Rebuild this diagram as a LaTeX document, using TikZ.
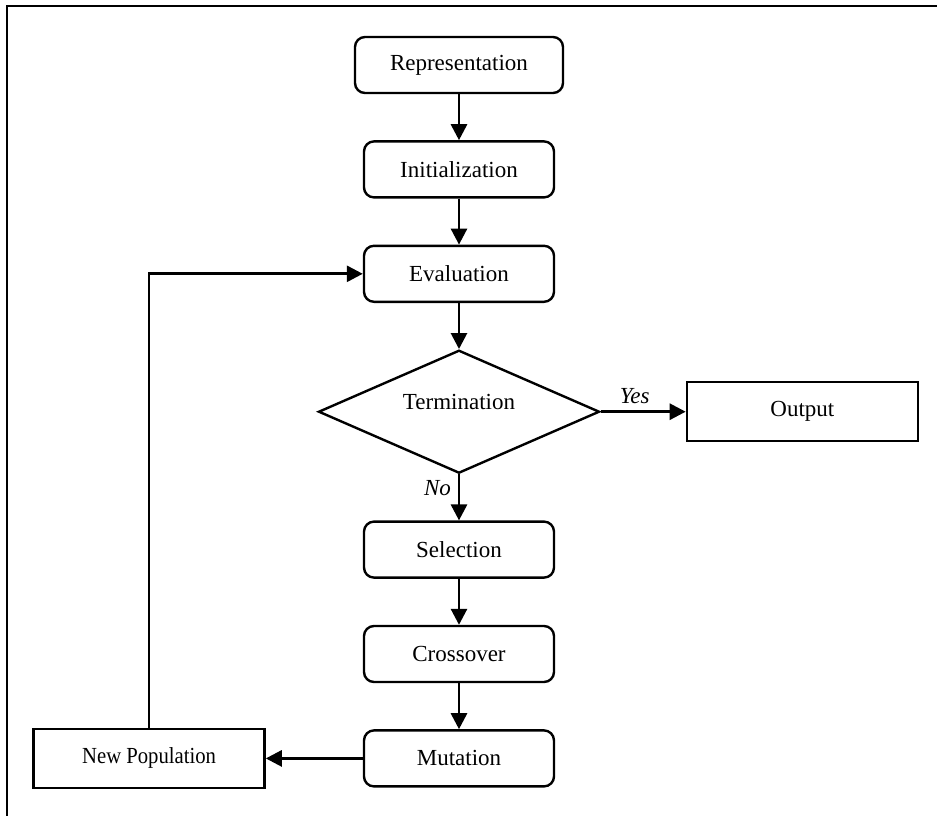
\documentclass[tikz,border=0pt]{standalone}
\usepackage{fontspec}
\setmainfont{Liberation Serif}
\usetikzlibrary{arrows.meta, positioning, shapes.geometric}
\tikzset{stage/.style={rectangle,draw,rounded corners=5pt,line width=1.2pt,align=center,inner sep=2pt,minimum width=95pt,minimum height=28pt},
plainbox/.style={rectangle,draw,line width=1.2pt,align=center,inner sep=2pt,minimum width=115.5pt,minimum height=29.5pt},
test/.style={diamond,draw,line width=1.2pt,inner sep=0pt,aspect=2.3,minimum width=140.5pt,minimum height=61.5pt},
line/.style={-{Triangle[length=8pt,width=8pt]},line width=1.4pt}}

\begin{document}
\begin{tikzpicture}[node distance=23pt and 42.5pt, font=\fontsize{11.5}{14}\selectfont]
\useasboundingbox (-229.5pt,32.5pt) rectangle (239pt,-375.5pt);
\draw[line width=1.25pt] (239pt,29.5pt) -- (-226pt,29.5pt) -- (-226pt,-375.5pt);
\node[stage, minimum width=104pt] (rep) {Representation};
\node[stage, below=of rep] (init) {Initialization};
\node[stage, below=of init] (eval) {Evaluation};
\node[test, below=of eval] (term) {\raisebox{10pt}{Termination}};
\node[plainbox, right=of term] (out) {Output};
\node[stage, below=of term] (sel) {Selection};
\node[stage, below=of sel] (cross) {Crossover};
\node[stage, below=of cross] (mut) {Mutation};
\node[plainbox, left=48.5pt of mut] (newpop) {\scalebox{0.9}[1]{New Population}};
\draw[line] (rep) -- (init);
\draw[line] (init) -- (eval);
\draw[line] (eval) -- (term);
\draw[line] (term) -- node[above, pos=0.4] {\itshape Yes} (out);
\draw[line] (term) -- node[left, pos=0.3] {\itshape No} (sel);
\draw[line] (sel) -- (cross);
\draw[line] (cross) -- (mut);
\draw[line] (mut) -- (newpop);
\draw[line] (newpop.north) |- (eval.west);
\end{tikzpicture}
\end{document}
